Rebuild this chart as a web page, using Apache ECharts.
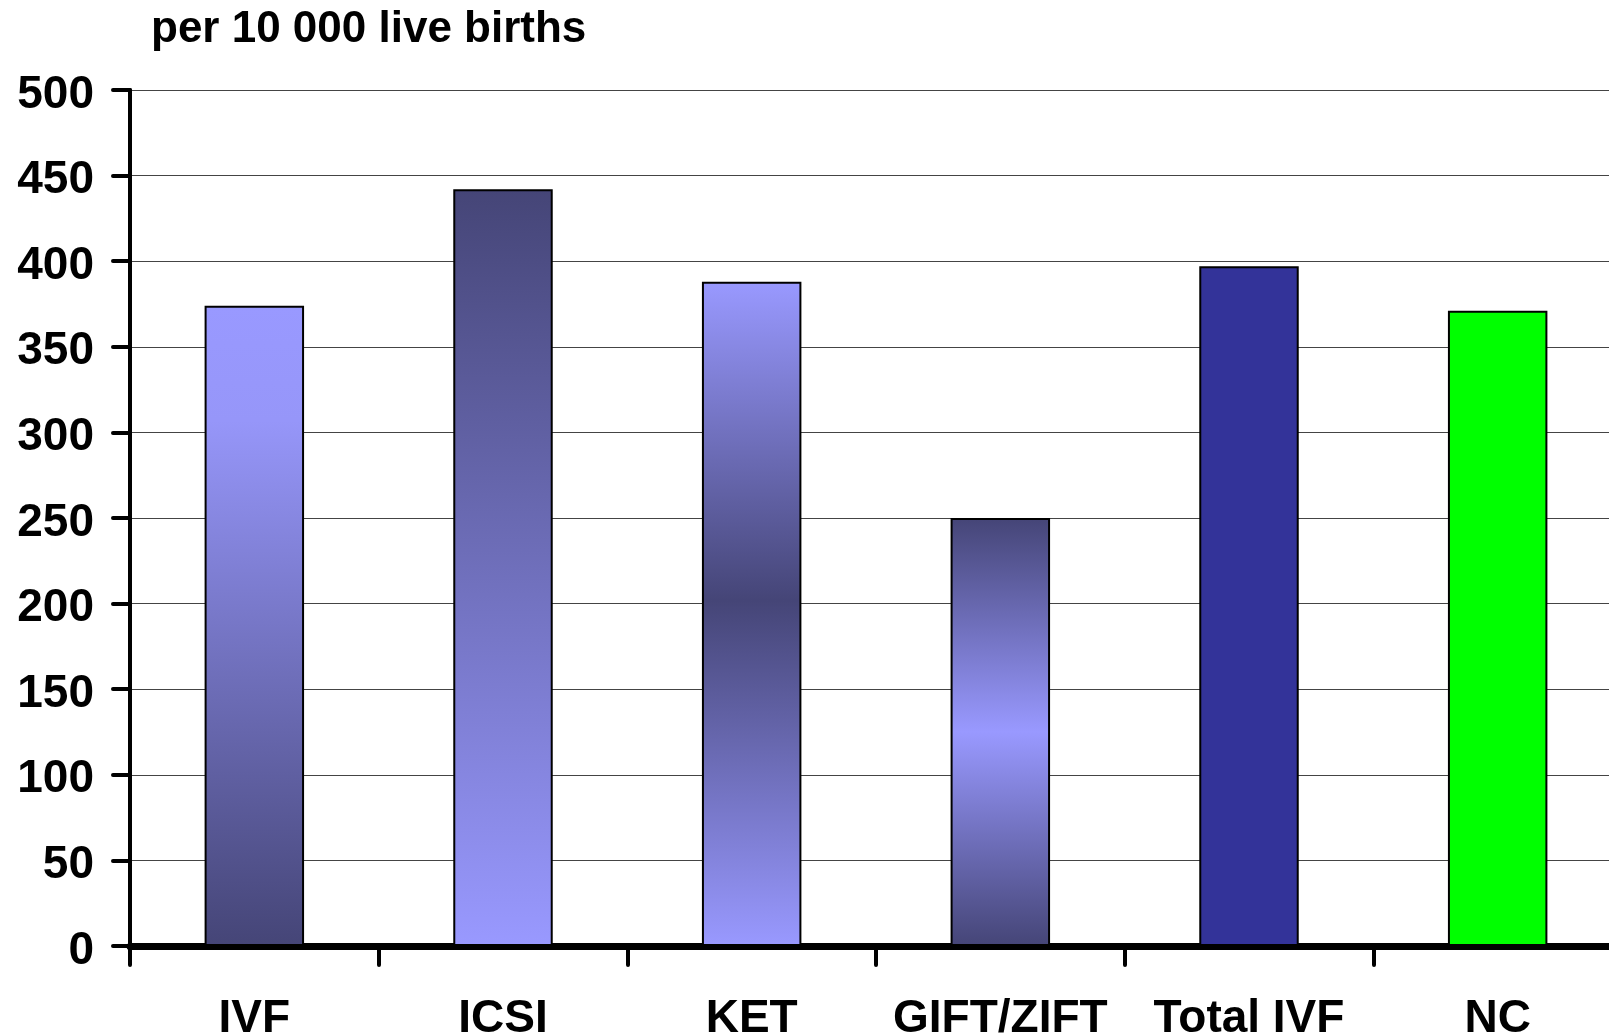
<!DOCTYPE html>
<html>
<head>
<meta charset="utf-8">
<script src="https://cdn.jsdelivr.net/npm/echarts@6/dist/echarts.min.js"></script>
<style>
html,body{margin:0;padding:0;background:#fff;}
#c{width:1609px;height:1034px;}
</style>
</head>
<body>
<div id="c"></div>
<script>
// ---- data ----
const categories = ['IVF', 'ICSI', 'KET', 'GIFT/ZIFT', 'Total IVF', 'NC'];
const values = [374, 442, 388, 250, 397, 371];
const yTicks = [0, 50, 100, 150, 200, 250, 300, 350, 400, 450, 500];
const titleText = 'per 10 000 live births';

// ---- styles ----
const LIGHT = '#9999FF', DARK = '#454577';
function grad(stops) {
  return new echarts.graphic.LinearGradient(0, 0, 0, 1,
    stops.map(s => ({ offset: s[0], color: s[1] })));
}
const fills = [
  grad([[0, LIGHT], [0.18, '#9696F9'], [1, DARK]]),
  grad([[0, DARK], [1, LIGHT]]),
  grad([[0, LIGHT], [0.48, DARK], [1, LIGHT]]),
  grad([[0, DARK], [0.5, LIGHT], [1, DARK]]),
  '#333399',
  '#00FF00'
];

const FONT = '"Liberation Sans", Arial, sans-serif';
const chart = echarts.init(document.getElementById('c'), null, { renderer: 'canvas' });
chart.setOption({
  animation: false,
  backgroundColor: '#fff',
  title: {
    text: titleText,
    left: 146,
    top: 3,
    textStyle: { fontFamily: FONT, fontWeight: 'bold', fontSize: 44, color: '#000', lineHeight: 44 }
  },
  grid: { left: 130, top: 90, bottom: 88, width: 1492, containLabel: false, outerBoundsMode: 'none' },
  xAxis: {
    type: 'category',
    data: categories,
    boundaryGap: true,
    axisLine: { show: true, lineStyle: { color: '#000', width: 7 } },
    axisTick: { show: true, inside: false, length: 19, lineStyle: { color: '#000', width: 4, cap: 'round' } },
    axisLabel: {
      margin: 50, interval: 0,
      fontFamily: FONT, fontWeight: 'bold', fontSize: 46, color: '#000', lineHeight: 46
    },
    splitLine: { show: false }
  },
  yAxis: {
    type: 'value',
    min: yTicks[0],
    max: yTicks[yTicks.length - 1],
    interval: yTicks[1] - yTicks[0],
    axisLine: { show: true, lineStyle: { color: '#000', width: 4 } },
    axisTick: { show: true, inside: false, length: 17, lineStyle: { color: '#000', width: 4, cap: 'round' } },
    axisLabel: {
      margin: 36,
      verticalAlign: 'top',
      lineHeight: 10,
      fontFamily: FONT, fontWeight: 'bold', fontSize: 46, color: '#000'
    },
    splitLine: { show: true, lineStyle: { color: '#444', width: 1.2 } }
  },
  series: [{
    type: 'bar',
    barWidth: '40%',
    data: values.map((v, i) => ({
      value: v,
      itemStyle: { color: fills[i], borderColor: '#000', borderWidth: 2 }
    }))
  }]
});
</script>
</body>
</html>
